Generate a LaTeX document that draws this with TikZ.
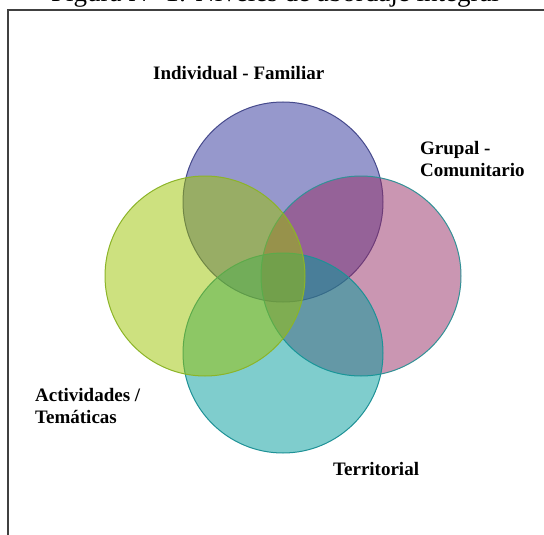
\documentclass[tikz,border=0pt]{standalone}
\usepackage{fontspec}
\setmainfont{Liberation Serif}
\usepackage{tikz}

\definecolor{indfam}{RGB}{45,49,153}
\definecolor{indfamline}{RGB}{70,74,140}
\definecolor{grucom}{RGB}{149,45,101}
\definecolor{grucomline}{RGB}{50,145,150}
\definecolor{territ}{RGB}{0,155,155}
\definecolor{territline}{RGB}{30,145,150}
\definecolor{actem}{RGB}{155,195,0}
\definecolor{actemline}{RGB}{140,180,40}

\begin{document}
\begin{tikzpicture}[x=1pt,y=-1pt,
  lbl/.style={font=\fontsize{19}{22}\selectfont\bfseries,align=left,inner sep=0pt},
  venn/.style={fill opacity=0.5,line width=1pt}]
\useasboundingbox (0,0) rectangle (544,535);
\clip (0,0) rectangle (544,535);

% titulo cortado arriba
\node[anchor=base,font=\fontsize{27}{30}\selectfont] (titulo) at (275,1.5) {Figura N° 1: Niveles de abordaje integral};
\draw[line width=1.5pt,black!75] (8,545) -- (8,10) -- (554,10);

% los cuatro circulos
\draw[venn,draw=indfamline,fill=indfam] (283,202) circle (100pt);
\draw[venn,draw=grucomline,fill=grucom] (361,276) circle (100pt);
\draw[venn,draw=territline,fill=territ] (283,353) circle (100pt);
\draw[venn,draw=actemline,fill=actem] (205,276) circle (100pt);

\node[lbl,anchor=base west] (indiv) at (153,80) {Individual - Familiar};
\node[lbl,anchor=north west] (grupal) at (420,141) {Grupal -\\Comunitario};
\node[lbl,anchor=north west] (activ) at (35,388) {Actividades /\\Temáticas};
\node[lbl,anchor=base west] (terri) at (333,475) {Territorial};

\end{tikzpicture}
\end{document}
